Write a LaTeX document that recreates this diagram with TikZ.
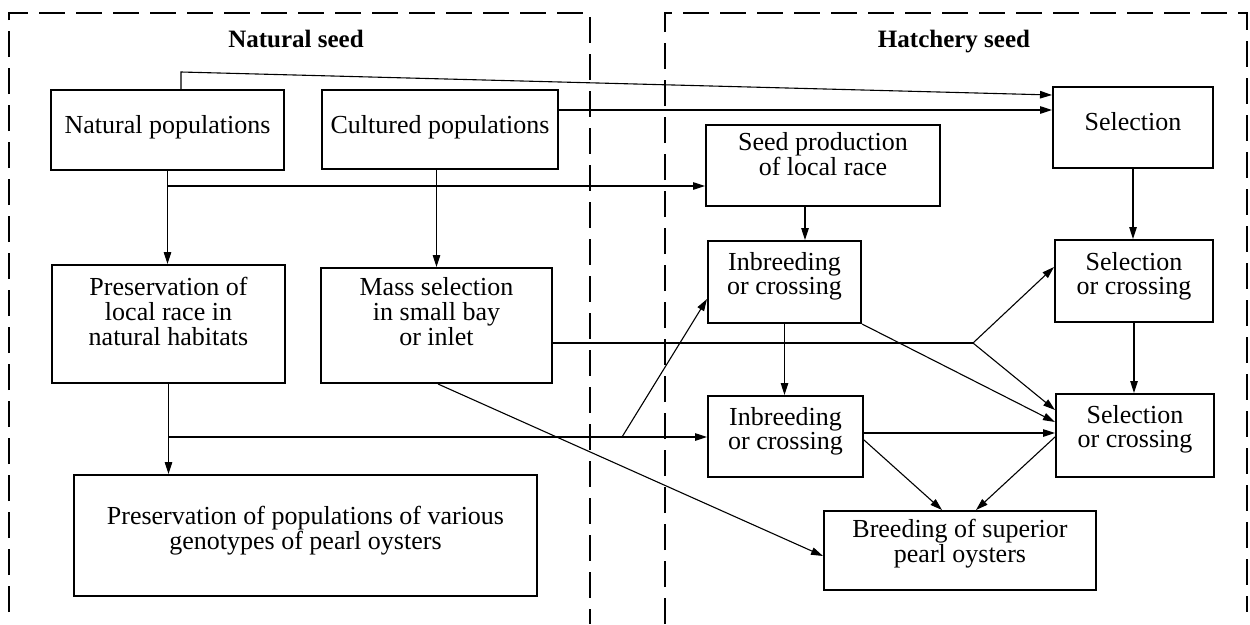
\documentclass[tikz,border=0pt]{standalone}
\usepackage{fontspec}
\setmainfont{Liberation Serif}
\usetikzlibrary{arrows.meta,calc}
\newcommand{\bt}[2]{\raisebox{#1}[\height][\depth]{\begin{tabular}{@{}c@{}}#2\end{tabular}}}
\newcommand{\nl}{\\}
\begin{document}
\begin{tikzpicture}[x=1pt,y=-1pt,
  box/.style={draw, line width=2pt, inner sep=0pt, font=\fontsize{26}{23}\selectfont},
  conn/.style={line width=1.1pt},
  arr/.style={conn, -{Triangle[length=12pt,width=7.5pt]}},
  frame/.style={line width=2.2pt, dash pattern=on 26pt off 11pt},
  title/.style={anchor=base, font=\fontsize{25}{23}\selectfont\bfseries}]
\useasboundingbox (0,0) rectangle (1250,624);
% frames
\draw[frame] (9,612) -- (9,13) -- (590,13) -- (590,624);
\draw[frame] (665,624) -- (665,13) -- (1247,13) -- (1247,612);
\node[title] (ns) at (296,47) {Natural seed};
\node[title] (hs) at (954,47) {Hatchery seed};
% boxes
\node[box, minimum width=233pt, minimum height=80pt] (np) at (167.5,130) {\bt{2pt}{Natural populations}};
\node[box, minimum width=236pt, minimum height=79pt] (cp) at (440,129.5) {\bt{1.5pt}{Cultured populations}};
\node[box, minimum width=234pt, minimum height=81pt] (sp) at (823,165.5) {\bt{8pt}{Seed production\nl of local race}};
\node[box, minimum width=160pt, minimum height=81pt] (sel) at (1133,127.5) {\bt{3pt}{Selection}};
\node[box, minimum width=153pt, minimum height=82pt] (ib1) at (784.5,282) {\bt{5pt}{Inbreeding\nl or crossing}};
\node[box, minimum width=158pt, minimum height=82pt] (sc1) at (1134,281) {\bt{4pt}{Selection\nl or crossing}};
\node[box, minimum width=233pt, minimum height=118pt] (pl) at (168.5,324) {\bt{9.5pt}{Preservation of\nl local race in\nl natural habitats}};
\node[box, minimum width=231pt, minimum height=115pt] (ms) at (436.5,325.5) {\bt{10.5pt}{Mass selection\nl in small bay\nl or inlet}};
\node[box, minimum width=155pt, minimum height=81pt] (ib2) at (785.5,436.5) {\bt{5pt}{Inbreeding\nl or crossing}};
\node[box, minimum width=158pt, minimum height=83pt] (sc2) at (1135,435.5) {\bt{6pt}{Selection\nl or crossing}};
\node[box, minimum width=463pt, minimum height=121pt] (pp) at (305.5,535.5) {\bt{4pt}{Preservation of populations of various\nl genotypes of pearl oysters}};
\node[box, minimum width=272pt, minimum height=79pt] (br) at (960,550.5) {\bt{6.5pt}{Breeding of superior\nl pearl oysters}};
% helper coordinates
\coordinate (t1) at (181,72);
\coordinate (yS) at (0,95);
\coordinate (yA) at (0,110);
\coordinate (b1) at (167.5,186);
\coordinate (b2) at (168.5,437);
\coordinate (b3) at (622,437);
\coordinate (yB) at (0,299);
\coordinate (yC) at (0,343);
\coordinate (j1) at (973,343);
\coordinate (yD) at (0,267);
\coordinate (yE) at (0,410);
\coordinate (yF) at (0,556);
\coordinate (x805) at (805,0);
\coordinate (m1) at (438,0);
\coordinate (yG) at (0,422);
\coordinate (yH) at (0,433);
\coordinate (yI) at (0,440);
\coordinate (yJ) at (0,437);
\coordinate (x942) at (942,0);
\coordinate (x976) at (976,0);
% connectors
\draw[arr] (np.north -| t1) -- (t1) -- (sel.west |- yS);
\draw[arr] (cp.east |- yA) -- (sel.west |- yA);
\draw[arr] (np.south) -- (np.south |- pl.north);
\draw[arr] (b1) -- (sp.west |- b1);
\draw[arr] (cp.south -| ms.north) -- (ms.north);
\draw[arr] (pl.south) -- (pl.south |- pp.north);
\draw[arr] (b2) -- (ib2.west |- b2);
\draw[arr] (b3) -- (ib1.west |- yB);
\draw[conn] (ms.east |- yC) -- (j1);
\draw[arr] (j1) -- (sc1.west |- yD);
\draw[arr] (j1) -- (sc2.west |- yE);
\draw[arr] (ms.south -| m1) -- (br.west |- yF);
\draw[arr] (sp.south -| x805) -- (ib1.north -| x805);
\draw[arr] (ib1.south) -- (ib1.south |- ib2.north);
\draw[arr] (sel.south) -- (sel.south |- sc1.north);
\draw[arr] (sc1.south) -- (sc1.south |- sc2.north);
\draw[arr] (ib1.south east) -- (sc2.west |- yG);
\draw[arr] (ib2.east |- yH) -- (sc2.west |- yH);
\draw[arr] (ib2.east |- yI) -- (br.north -| x942);
\draw[arr] (sc2.west |- yJ) -- (br.north -| x976);
\end{tikzpicture}
\end{document}
